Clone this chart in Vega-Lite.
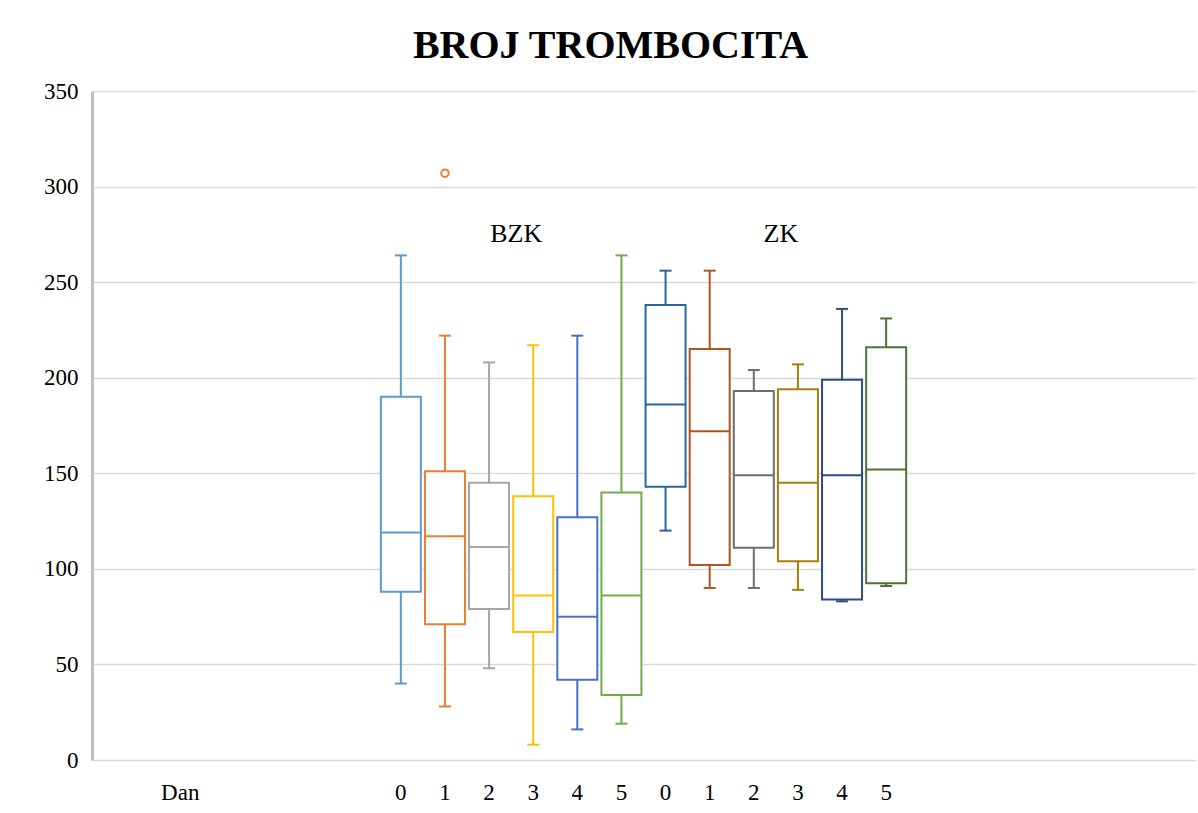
{
  "$schema": "https://vega.github.io/schema/vega-lite/v6.json",
  "autosize": "none",
  "width": 1103,
  "height": 669,
  "padding": {"left": 92, "top": 91, "right": 3, "bottom": 53},
  "background": "white",
  "title": {
    "text": "BROJ TROMBOCITA",
    "font": "Liberation Serif",
    "fontSize": 40,
    "fontWeight": "bold",
    "color": "#000000",
    "anchor": "middle",
    "dx": -33,
    "offset": 14
  },
  "config": {
    "view": {"stroke": null},
    "axis": {"labelFont": "Liberation Serif", "labelColor": "#000000", "labelFontSize": 23}
  },
  "datasets": {
    "boxes": [
      {"key": "B0", "lo": 40, "q1": 88, "med": 119, "q3": 190, "hi": 264},
      {"key": "B1", "lo": 28, "q1": 71, "med": 117, "q3": 151, "hi": 222},
      {"key": "B2", "lo": 48, "q1": 79, "med": 111.5, "q3": 145, "hi": 208},
      {"key": "B3", "lo": 8, "q1": 67, "med": 86, "q3": 138, "hi": 217},
      {"key": "B4", "lo": 16, "q1": 42, "med": 75, "q3": 127, "hi": 222},
      {"key": "B5", "lo": 19, "q1": 34, "med": 86, "q3": 140, "hi": 264},
      {"key": "Z0", "lo": 120, "q1": 143, "med": 186, "q3": 238, "hi": 256},
      {"key": "Z1", "lo": 90, "q1": 102, "med": 172, "q3": 215, "hi": 256},
      {"key": "Z2", "lo": 90, "q1": 111, "med": 149, "q3": 193, "hi": 204},
      {"key": "Z3", "lo": 89, "q1": 104, "med": 145, "q3": 194, "hi": 207},
      {"key": "Z4", "lo": 83, "q1": 84, "med": 149, "q3": 199, "hi": 236},
      {"key": "Z5", "lo": 91, "q1": 92.5, "med": 152, "q3": 216, "hi": 231}
    ],
    "outliers": [{"key": "B1", "v": 307}],
    "labels": [
      {"key": "B3", "y": 275, "label": "BZK"},
      {"key": "Z3", "y": 275, "label": "ZK"}
    ]
  },
  "layer": [
    {
      "data": {"name": "boxes"},
      "mark": {"type": "rule", "strokeWidth": 2},
      "encoding": {
        "x": {
          "field": "key",
          "type": "nominal",
          "scale": {
            "type": "band",
            "domain": ["f0", "Dan", "f2", "f3", "f4", "f5", "B0", "B1", "B2", "B3", "B4", "B5", "Z0", "Z1", "Z2", "Z3", "Z4", "Z5", "f18", "f19", "f20", "f21", "f22", "f23"],
            "paddingInner": 0,
            "paddingOuter": 0.5
          },
          "axis": {
            "title": null,
            "domain": false,
            "ticks": false,
            "labelAngle": 0,
            "labelPadding": 21,
            "labelExpr": "datum.value == 'Dan' ? 'Dan' : (substring(datum.value, 0, 1) == 'f' ? '' : substring(datum.value, 1))"
          }
        },
        "y": {
          "field": "lo",
          "type": "quantitative",
          "scale": {"domain": [0, 350], "nice": false, "zero": true},
          "axis": {
            "title": null,
            "values": [0, 50, 100, 150, 200, 250, 300, 350],
            "domainColor": "#bfbfbf",
            "domainWidth": 3,
            "ticks": false,
            "labelPadding": 14,
            "gridColor": "#d9d9d9",
            "gridWidth": 1.5
          }
        },
        "y2": {"field": "hi"},
        "color": {
          "field": "key",
          "type": "nominal",
          "scale": {
            "domain": ["B0", "B1", "B2", "B3", "B4", "B5", "Z0", "Z1", "Z2", "Z3", "Z4", "Z5"],
            "range": ["#5B9BD5", "#ED7D31", "#A5A5A5", "#FFC000", "#4472C4", "#70AD47", "#2A66A0", "#AE5520", "#6E6E6E", "#A67F0A", "#2B4C85", "#4B7533"]
          },
          "legend": null
        }
      }
    },
    {
      "data": {"name": "boxes"},
      "mark": {"type": "bar", "width": 40, "fill": "white", "strokeWidth": 2},
      "encoding": {
        "x": {"field": "key", "type": "nominal"},
        "y": {"field": "q1", "type": "quantitative"},
        "y2": {"field": "q3"},
        "stroke": {
          "field": "key",
          "type": "nominal",
          "scale": {
            "domain": ["B0", "B1", "B2", "B3", "B4", "B5", "Z0", "Z1", "Z2", "Z3", "Z4", "Z5"],
            "range": ["#5B9BD5", "#ED7D31", "#A5A5A5", "#FFC000", "#4472C4", "#70AD47", "#2A66A0", "#AE5520", "#6E6E6E", "#A67F0A", "#2B4C85", "#4B7533"]
          },
          "legend": null
        }
      }
    },
    {
      "data": {"name": "boxes"},
      "mark": {"type": "tick", "orient": "horizontal", "size": 40, "thickness": 2, "opacity": 1},
      "encoding": {
        "x": {"field": "key", "type": "nominal"},
        "y": {"field": "med", "type": "quantitative"},
        "color": {"field": "key", "type": "nominal", "legend": null}
      }
    },
    {
      "data": {"name": "boxes"},
      "mark": {"type": "tick", "orient": "horizontal", "size": 12, "thickness": 2, "opacity": 1},
      "encoding": {
        "x": {"field": "key", "type": "nominal"},
        "y": {"field": "lo", "type": "quantitative"},
        "color": {"field": "key", "type": "nominal", "legend": null}
      }
    },
    {
      "data": {"name": "boxes"},
      "mark": {"type": "tick", "orient": "horizontal", "size": 12, "thickness": 2, "opacity": 1},
      "encoding": {
        "x": {"field": "key", "type": "nominal"},
        "y": {"field": "hi", "type": "quantitative"},
        "color": {"field": "key", "type": "nominal", "legend": null}
      }
    },
    {
      "data": {"name": "outliers"},
      "mark": {"type": "point", "filled": false, "size": 55, "strokeWidth": 2, "opacity": 1},
      "encoding": {
        "x": {"field": "key", "type": "nominal"},
        "y": {"field": "v", "type": "quantitative"},
        "color": {"field": "key", "type": "nominal", "legend": null}
      }
    },
    {
      "mark": {"type": "rule", "color": "#C00000", "strokeWidth": 1.2},
      "encoding": {"y": {"datum": 150, "type": "quantitative"}}
    },
    {
      "data": {"name": "labels"},
      "mark": {"type": "text", "font": "Liberation Serif", "fontSize": 26, "color": "#000000", "dx": -17, "baseline": "middle", "align": "center"},
      "encoding": {
        "x": {"field": "key", "type": "nominal"},
        "y": {"field": "y", "type": "quantitative"},
        "text": {"field": "label"}
      }
    }
  ]
}
